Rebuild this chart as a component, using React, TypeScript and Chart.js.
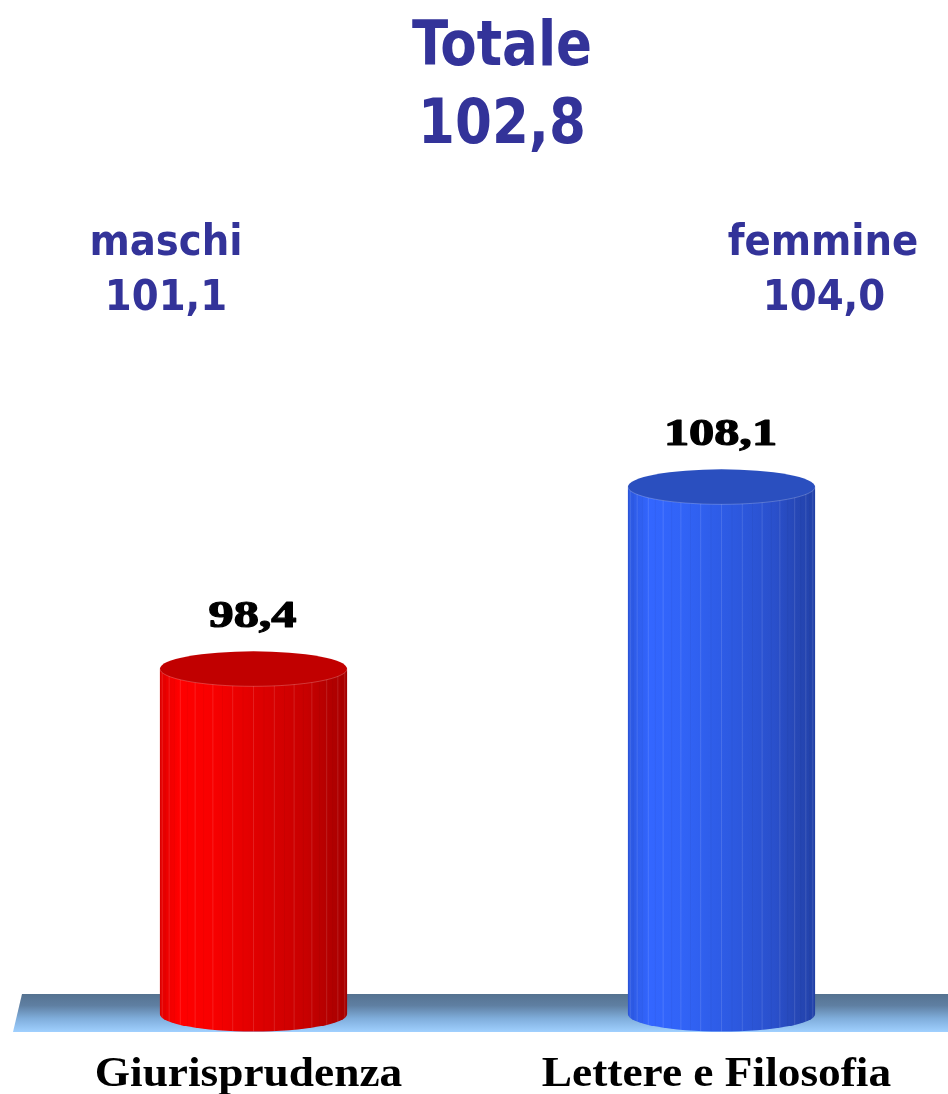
import React, { useEffect, useRef } from "react";
import { Chart, registerables } from "chart.js";

Chart.register(...registerables);

// ---- data ----
const categories = ["Giurisprudenza", "Lettere e Filosofia"];
const values = [98.4, 108.1];
const valueLabels = ["98,4", "108,1"];
const totalLines = ["Totale", "102,8"];
const maleLines = ["maschi", "101,1"];
const femaleLines = ["femmine", "104,0"];
const yMin = 80;
const yMax = 120;

// ---- styles ----
const sideStops: [number, string][][] = [
  [
    [0, "#e20000"],
    [0.1, "#ff0000"],
    [0.28, "#f80000"],
    [0.55, "#dc0000"],
    [0.78, "#c80000"],
    [0.9, "#b40000"],
    [1, "#a80000"],
  ],
  [
    [0, "#2c58e0"],
    [0.12, "#3366ff"],
    [0.3, "#3163f6"],
    [0.55, "#2d5ae2"],
    [0.78, "#2a50cc"],
    [0.9, "#2647b6"],
    [1, "#2242aa"],
  ],
];
const topColors = ["#c10000", "#2a4fbf"];
const titleColor = "#333399";
const sansFont = '"DejaVu Sans Condensed", "DejaVu Sans", "Open Sans", sans-serif';
const serifFont = '"Liberation Serif", "Times New Roman", serif';

function drawScaled(
  ctx: CanvasRenderingContext2D,
  text: string,
  cx: number,
  baseline: number,
  font: string,
  sx: number,
  sy: number,
  color: string,
  strokeW = 0
) {
  ctx.save();
  ctx.translate(cx, baseline);
  ctx.scale(sx, sy);
  ctx.font = font;
  ctx.fillStyle = color;
  ctx.textAlign = "center";
  ctx.textBaseline = "alphabetic";
  ctx.fillText(text, 0, 0);
  if (strokeW > 0) {
    ctx.strokeStyle = color;
    ctx.lineWidth = strokeW;
    ctx.lineJoin = "round";
    ctx.strokeText(text, 0, 0);
  }
  ctx.restore();
}

const cylinderPlugin = {
  id: "cylinders",
  beforeDatasetsDraw(chart: any) {
    const { ctx } = chart;
    const w = chart.width;
    const basePx = chart.scales.y.getPixelForValue(yMin);
    const top = basePx - 20;
    const bot = basePx + 18;
    const g = ctx.createLinearGradient(0, top, 0, bot);
    g.addColorStop(0, "#557290");
    g.addColorStop(0.3, "#5f7fa2");
    g.addColorStop(0.65, "#80aedc");
    g.addColorStop(1, "#a0d0ff");
    ctx.save();
    ctx.beginPath();
    ctx.moveTo(22, top);
    ctx.lineTo(w, top);
    ctx.lineTo(w, bot);
    ctx.lineTo(13, bot);
    ctx.closePath();
    ctx.fillStyle = g;
    ctx.fill();
    ctx.restore();
  },
  afterDatasetsDraw(chart: any) {
    const { ctx } = chart;
    const meta = chart.getDatasetMeta(0);
    const base = chart.scales.y.getPixelForValue(yMin);
    meta.data.forEach((el: any, i: number) => {
      const { x, y, width } = el.getProps(["x", "y", "width"], true);
      const r = width / 2;
      const ry = 17.5;
      const left = x - r;
      const right = x + r;
      ctx.save();
      const g = ctx.createLinearGradient(left, 0, right, 0);
      sideStops[i].forEach(([p, c]) => g.addColorStop(p, c));
      ctx.beginPath();
      ctx.moveTo(left, y);
      ctx.lineTo(left, base);
      ctx.ellipse(x, base, r, ry, 0, Math.PI, 0, true);
      ctx.lineTo(right, y);
      ctx.closePath();
      ctx.fillStyle = g;
      ctx.fill();
      // facets
      const N = 28;
      ctx.lineWidth = 1;
      for (let k = 1; k < N; k++) {
        const a = (k * Math.PI) / N;
        const fx = x - r * Math.cos(a);
        ctx.strokeStyle = k % 2 === 0 ? "rgba(255,255,255,0.12)" : "rgba(0,0,0,0.04)";
        ctx.beginPath();
        ctx.moveTo(fx, y);
        ctx.lineTo(fx, base + ry * Math.sin(a));
        ctx.stroke();
      }
      // top
      ctx.beginPath();
      ctx.ellipse(x, y, r, ry, 0, 0, Math.PI * 2);
      ctx.fillStyle = topColors[i];
      ctx.fill();
      ctx.strokeStyle = "rgba(255,255,255,0.22)";
      ctx.beginPath();
      ctx.ellipse(x, y, r, ry, 0, 0, Math.PI);
      ctx.stroke();
      ctx.restore();

      // value label
      drawScaled(ctx, valueLabels[i], x - 1, y - 42, `bold 37px ${serifFont}`, 1.36, 1, "#000000", 1.2);
      // category label
      drawScaled(ctx, categories[i], x - 5, 1086, `bold 42px ${serifFont}`, 1.08, 1, "#000000");
    });
  },
  afterDraw(chart: any) {
    const { ctx } = chart;
    drawScaled(ctx, totalLines[0], 502, 65, `bold 59px ${sansFont}`, 1, 1.07, titleColor);
    drawScaled(ctx, totalLines[1], 502, 143, `bold 59px ${sansFont}`, 1, 1.07, titleColor);
    drawScaled(ctx, maleLines[0], 166, 255, `bold 43px ${sansFont}`, 1, 1, titleColor);
    drawScaled(ctx, maleLines[1], 166, 310, `bold 43px ${sansFont}`, 1, 1, titleColor);
    drawScaled(ctx, femaleLines[0], 823, 255, `bold 43px ${sansFont}`, 1, 1, titleColor);
    drawScaled(ctx, femaleLines[1], 824, 310, `bold 43px ${sansFont}`, 1, 1, titleColor);
  },
};

export default function App() {
  const canvasRef = useRef<HTMLCanvasElement | null>(null);

  useEffect(() => {
    const canvas = canvasRef.current;
    if (!canvas) return;
    const chart = new Chart(canvas, {
      type: "bar",
      data: {
        labels: categories,
        datasets: [
          {
            data: values,
            base: yMin,
            backgroundColor: "rgba(0,0,0,0)",
            borderWidth: 0,
            barPercentage: 0.4,
            categoryPercentage: 1,
          },
        ],
      },
      options: {
        responsive: false,
        animation: false,
        devicePixelRatio: 1,
        layout: { padding: { left: 19.5, right: 4.5, top: 263.6, bottom: 80 } },
        plugins: {
          legend: { display: false },
          tooltip: { enabled: false },
          title: { display: false },
        },
        scales: {
          x: { display: false },
          y: { display: false, min: yMin, max: yMax },
        },
      },
      plugins: [cylinderPlugin],
    });
    return () => chart.destroy();
  }, []);

  return (
    <div
      style={{
        position: "fixed",
        left: 0,
        top: 0,
        width: 948,
        height: 1094,
        overflow: "hidden",
        background: "#ffffff",
      }}
    >
      <canvas
        ref={canvasRef}
        width={960}
        height={1094}
        style={{ display: "block", width: 960, height: 1094 }}
      />
    </div>
  );
}
